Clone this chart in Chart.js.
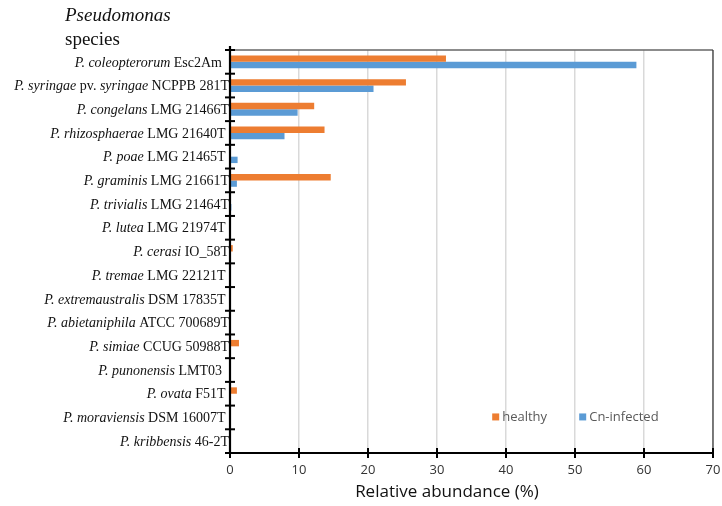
<!DOCTYPE html>
<html lang="en">
<head>
  <meta charset="UTF-8">
  <title>Pseudomonas species relative abundance</title>
  <style>
    body { margin: 0; background: #fff; }
    #wrap { width: 722px; height: 506px; }
  </style>
  <script src="https://cdn.jsdelivr.net/npm/chart.js"></script>
</head>
<body>
<div id="wrap"><canvas id="abundanceChart" width="722" height="506"></canvas></div>
<script>
// species (italic part) and strain (upright part)
const speciesNames = [
  'P. coleopterorum', 'P. syringae pv. syringae', 'P. congelans', 'P. rhizosphaerae',
  'P. poae', 'P. graminis', 'P. trivialis', 'P. lutea', 'P. cerasi', 'P. tremae',
  'P. extremaustralis', 'P. abietaniphila', 'P. simiae', 'P. punonensis', 'P. ovata',
  'P. moraviensis', 'P. kribbensis'
];
const strainNames = [
  'Esc2Am  ', 'NCPPB 281T', 'LMG 21466T', 'LMG 21640T ', 'LMG 21465T ', 'LMG 21661T',
  'LMG 21464T', 'LMG 21974T ', 'IO_58T', 'LMG 22121T ', 'DSM 17835T ', 'ATCC 700689T',
  'CCUG 50988T', 'LMT03  ', 'F51T ', 'DSM 16007T ', '46-2T'
];
const healthy  = [31.3, 25.5, 12.2, 13.7, 0, 14.6, 0, 0, 0.4, 0, 0, 0, 1.3, 0, 1.0, 0, 0];
const infected = [58.9, 20.8, 9.8, 7.9, 1.1, 1.0, 0.2, 0, 0, 0, 0, 0, 0, 0, 0, 0, 0];
const xTicks = [0, 10, 20, 30, 40, 50, 60, 70];

const seriesNames = ['healthy', 'Cn-infected'];
const seriesColors = ['#ED7D31', '#5B9BD5'];

const serif = "'Liberation Serif', 'Times New Roman', serif";
const sans = "'Open Sans', 'Liberation Sans', sans-serif";

// axes, cross ticks, mixed-style labels, legend and titles
const decor = {
  id: 'decor',
  afterDraw(chart) {
    const ctx = chart.ctx;
    const a = chart.chartArea;
    const x = chart.scales.x, y = chart.scales.y;
    ctx.save();

    // frame top / right
    ctx.strokeStyle = '#666';
    ctx.lineWidth = 1.5;
    ctx.beginPath();
    ctx.moveTo(a.left, a.top); ctx.lineTo(a.right, a.top);
    ctx.stroke();
    ctx.strokeStyle = '#333';
    ctx.lineWidth = 1.2;
    ctx.beginPath();
    ctx.moveTo(a.right, a.top); ctx.lineTo(a.right, a.bottom);
    ctx.stroke();

    // y axis with ticks on category boundaries
    ctx.strokeStyle = '#000';
    ctx.lineWidth = 2.2;
    ctx.beginPath();
    ctx.moveTo(a.left, a.top - 4); ctx.lineTo(a.left, a.bottom);
    ctx.stroke();
    const half = (y.getPixelForValue(1) - y.getPixelForValue(0)) / 2;
    ctx.lineWidth = 2;
    for (let i = 0; i <= speciesNames.length; i++) {
      const py = y.getPixelForValue(i) - half;
      ctx.beginPath();
      ctx.moveTo(a.left - 5, py); ctx.lineTo(a.left + 5, py);
      ctx.stroke();
    }

    // x axis with ticks
    ctx.lineWidth = 2.2;
    ctx.beginPath();
    ctx.moveTo(a.left, a.bottom); ctx.lineTo(a.right, a.bottom);
    ctx.stroke();
    ctx.lineWidth = 2;
    xTicks.forEach(v => {
      const px = x.getPixelForValue(v);
      ctx.beginPath();
      ctx.moveTo(px, a.bottom - 5); ctx.lineTo(px, a.bottom + 5);
      ctx.stroke();
    });

    // category labels: species italic ("pv." upright), strain upright
    ctx.fillStyle = '#111';
    ctx.textBaseline = 'middle';
    ctx.textAlign = 'left';
    const italic = 'italic 14px ' + serif;
    const normal = '14px ' + serif;
    speciesNames.forEach((name, i) => {
      const parts = [];
      name.split(' pv. ').forEach((p, k) => {
        if (k > 0) parts.push([' pv. ', normal]);
        parts.push([p, italic]);
      });
      parts.push([' ' + strainNames[i], normal]);
      let w = 0;
      parts.forEach(p => { ctx.font = p[1]; w += ctx.measureText(p[0]).width; });
      let px = a.left - 1 - w;
      const py = y.getPixelForValue(i) + 1;
      parts.forEach(p => {
        ctx.font = p[1];
        ctx.fillText(p[0], px, py);
        px += ctx.measureText(p[0]).width;
      });
    });

    // title
    ctx.font = 'italic 19px ' + serif;
    ctx.fillStyle = '#111';
    ctx.textBaseline = 'alphabetic';
    ctx.fillText('Pseudomonas', 65, 21);
    ctx.font = '19px ' + serif;
    ctx.fillText('species', 65, 45);

    // x axis title
    ctx.font = '17px ' + sans;
    ctx.textAlign = 'center';
    ctx.textBaseline = 'middle';
    ctx.fillStyle = '#111';
    ctx.fillText('Relative abundance (%)', a.left + 217, 492);

    // legend inside the plot, bottom right
    ctx.font = '13px ' + sans;
    ctx.textAlign = 'left';
    let lx = x.getPixelForValue(38.0);
    const ly = y.getPixelForValue(15);
    seriesNames.forEach((n, i) => {
      ctx.fillStyle = seriesColors[i];
      ctx.fillRect(lx, ly - 4, 7, 7);
      ctx.fillStyle = '#595959';
      ctx.fillText(n, lx + 10, ly);
      lx += 87;
    });

    ctx.restore();
  }
};

new Chart(document.getElementById('abundanceChart'), {
  type: 'bar',
  data: {
    labels: speciesNames.map((n, i) => n + ' ' + strainNames[i].trim()),
    datasets: [
      { label: seriesNames[0], data: healthy, backgroundColor: seriesColors[0], barPercentage: 1, categoryPercentage: 0.54 },
      { label: seriesNames[1], data: infected, backgroundColor: seriesColors[1], barPercentage: 1, categoryPercentage: 0.54 }
    ]
  },
  options: {
    indexAxis: 'y',
    responsive: false,
    animation: false,
    layout: { padding: { top: 50, right: 9, left: 0, bottom: 0 } },
    plugins: { legend: { display: false }, tooltip: { enabled: false } },
    scales: {
      x: {
        min: 0, max: 70,
        ticks: { stepSize: 10, padding: 9, color: '#333', font: { size: 13, family: sans } },
        grid: { color: '#d9d9d9', lineWidth: 1.5, drawTicks: false },
        border: { display: false },
        afterFit: s => { s.height = 53; s.paddingLeft = 0; s.paddingRight = 0; }
      },
      y: {
        ticks: { display: false },
        grid: { display: false },
        border: { display: false },
        afterFit: s => { s.width = 230; }
      }
    }
  },
  plugins: [decor]
});
</script>
</body>
</html>
